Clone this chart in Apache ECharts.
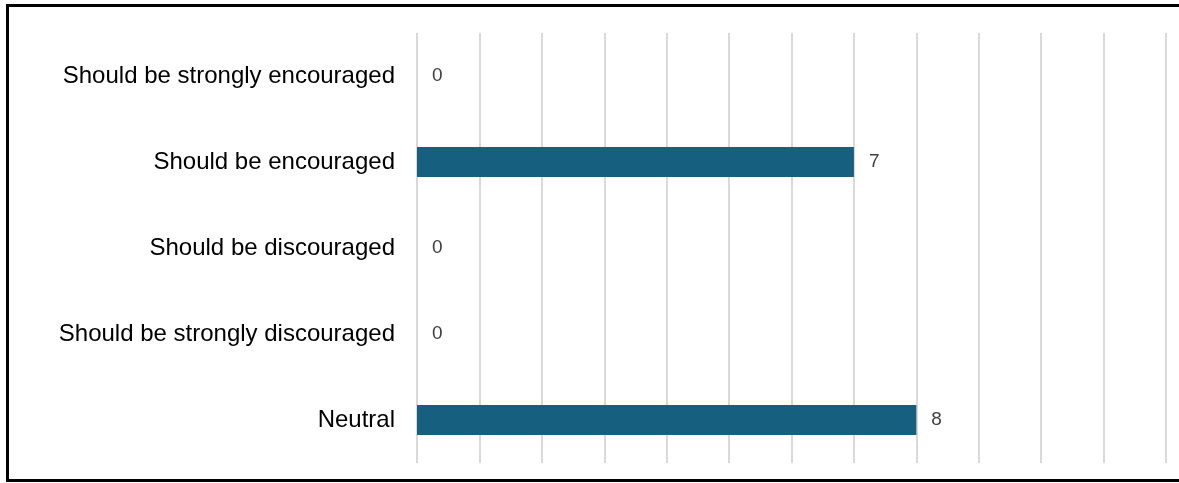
<!DOCTYPE html>
<html>
<head>
<meta charset="utf-8">
<script src="https://cdn.jsdelivr.net/npm/echarts@6/dist/echarts.min.js"></script>
<style>
  html, body { margin: 0; padding: 0; background: #fff; }
  #main { width: 1179px; height: 483px; }
</style>
</head>
<body>
<div id="main"></div>
<script>
// 数据
var categories = ['Should be strongly encouraged', 'Should be encouraged', 'Should be discouraged', 'Should be strongly discouraged', 'Neutral'];
var counts = [0, 7, 0, 0, 8];
var axisMax = 12;

var myChart = echarts.init(document.getElementById('main'));

option = {
    animation: false,
    color: ['#175f7f'],
    graphic: [{
        type: 'rect',
        shape: { x: 7.5, y: 5.5, width: 1200, height: 475 },
        style: { fill: 'none', stroke: '#000', lineWidth: 3 }
    }],
    grid: {
        left: 417,
        right: 13,
        top: 33,
        bottom: 20
    },
    xAxis: {
        type: 'value',
        min: 0,
        max: axisMax,
        interval: 1,
        axisLine: { show: false },
        axisTick: { show: false },
        axisLabel: { show: false },
        splitLine: {
            show: true,
            lineStyle: { color: '#d9d9d9', width: 2 }
        }
    },
    yAxis: {
        type: 'category',
        inverse: true,
        data: categories,
        axisLine: { show: false },
        axisTick: { show: false },
        axisLabel: {
            margin: 22,
            color: '#000',
            fontSize: 24,
            fontFamily: 'Liberation Sans, Arial, sans-serif'
        }
    },
    series: [{
        type: 'bar',
        data: counts,
        barWidth: 30,
        label: {
            show: true,
            position: 'right',
            distance: 15,
            color: '#404040',
            fontSize: 19,
            fontFamily: 'Liberation Sans, Arial, sans-serif'
        }
    }]
};
myChart.setOption(option);
</script>
</body>
</html>
